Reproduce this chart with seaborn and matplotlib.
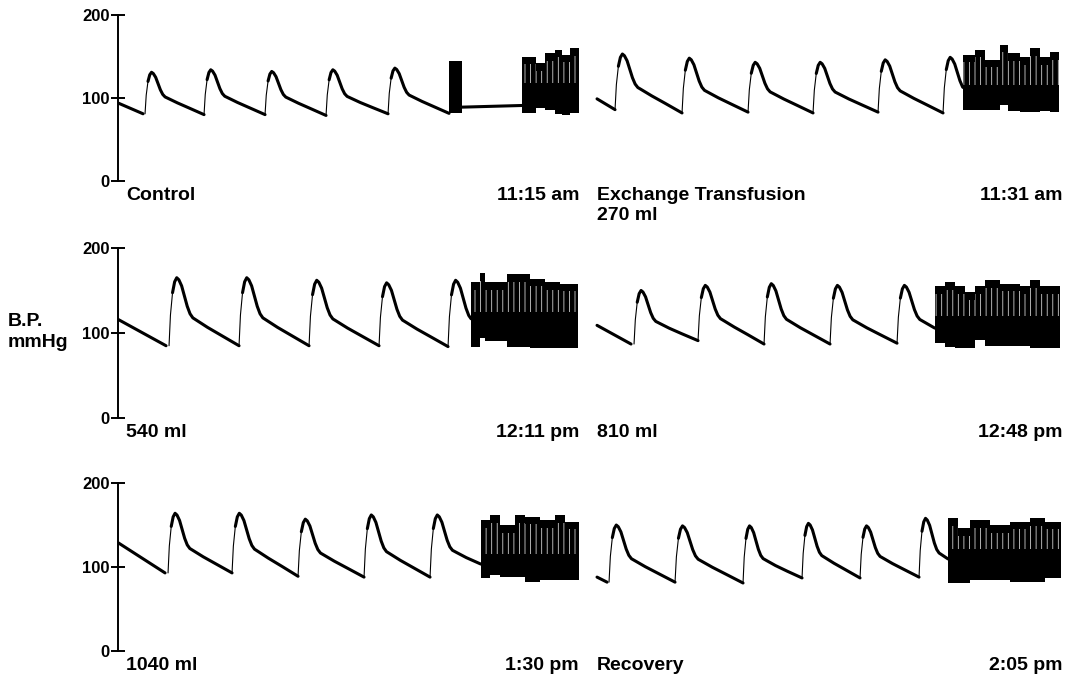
import matplotlib
matplotlib.use("Agg")
import matplotlib.pyplot as plt
import numpy as np
import pandas as pd
import seaborn as sns

# time runs along the paper strip (arbitrary chart units), pressure in mmHg

# shape of one beat: fraction of the beat -> rise above diastolic
PULSE_PHASE = [0, 0.02, 0.05, 0.08, 0.11, 0.14, 0.18, 0.22, 0.26, 0.30, 0.34, 0.40, 0.55, 0.75, 1.0]
PULSE_LEVEL = [0, 0.45, 0.78, 0.94, 1.0, 0.97, 0.88, 0.73, 0.58, 0.47, 0.41, 0.37, 0.27, 0.15, 0]

# ---- row 1 left: Control ----
ctrl_init_t = [0.0, 5.0]
ctrl_init_p = [94, 81]
ctrl_onset = [5.4, 17.2, 29.4, 41.6, 54.0]
ctrl_peak = [131, 134, 132, 134, 136]
ctrl_trough = [80, 80, 79, 81, 81]
ctrl_flat_t = [68.8, 80.8]
ctrl_flat_p = [89, 91]
ctrl_blk1_t = [66.2, 68.8]
ctrl_blk1_hi = [145]
ctrl_blk1_lo = [82]
ctrl_blk2_t = [80.8, 83.6, 85.4, 87.4, 88.8, 90.4, 92.2]
ctrl_blk2_hi = [150, 142, 154, 158, 152, 160]
ctrl_blk2_lo = [82, 88, 86, 81, 80, 82]

# ---- row 1 right: Exchange transfusion 270 ml ----
ex270_init_t = [95.8, 99.4]
ex270_init_p = [99, 86]
ex270_onset = [99.4, 112.8, 126.0, 139.0, 152.0, 165.0]
ex270_peak = [153, 148, 143, 143, 146, 149]
ex270_trough = [82, 83, 82, 83, 82, 82]
ex270_blk_t = [169.0, 171.4, 173.4, 176.4, 178.0, 180.4, 182.4, 184.4, 186.4, 188.2]
ex270_blk_hi = [152, 158, 146, 164, 154, 149, 160, 149, 155]
ex270_blk_lo = [86, 86, 86, 92, 84, 83, 83, 84, 83]

# ---- row 2 left: 540 ml ----
ex540_init_t = [0.0, 9.6]
ex540_init_p = [116, 85]
ex540_onset = [10.2, 24.2, 38.2, 52.2, 66.0]
ex540_peak = [165, 165, 162, 159, 162]
ex540_trough = [85, 85, 85, 84, 84]
ex540_blk_t = [70.6, 72.4, 73.4, 77.8, 82.4, 85.4, 88.4, 92.0]
ex540_blk_hi = [160, 170, 160, 169, 164, 160, 158]
ex540_blk_lo = [84, 94, 90, 84, 82, 82, 82]

# ---- row 2 right: 810 ml ----
ex810_init_t = [95.8, 102.6]
ex810_init_p = [109, 87]
ex810_onset = [103.2, 116.0, 129.2, 142.4, 155.8]
ex810_peak = [150, 156, 158, 156, 156]
ex810_trough = [91, 87, 87, 88, 88]
ex810_blk_t = [163.4, 165.4, 167.4, 169.4, 171.4, 173.4, 176.4, 178.4, 180.4, 182.4, 184.4, 188.4]
ex810_blk_hi = [155, 160, 155, 148, 155, 162, 158, 158, 155, 162, 155]
ex810_blk_lo = [88, 84, 82, 82, 92, 85, 85, 85, 85, 82, 82]

# ---- row 3 left: 1040 ml ----
ex1040_init_t = [0.0, 9.4]
ex1040_init_p = [129, 93]
ex1040_onset = [10.0, 22.8, 36.0, 49.2, 62.4]
ex1040_peak = [164, 164, 157, 162, 162]
ex1040_trough = [93, 89, 88, 88, 96]
ex1040_blk_t = [72.6, 74.4, 76.4, 79.4, 81.4, 84.4, 87.4, 89.4, 92.2]
ex1040_blk_hi = [156, 162, 150, 162, 160, 156, 162, 154]
ex1040_blk_lo = [87, 90, 88, 88, 82, 85, 85, 85]

# ---- row 3 right: Recovery ----
rec_init_t = [95.8, 97.8]
rec_init_p = [88, 82]
rec_onset = [98.2, 111.4, 125.0, 136.8, 148.4, 160.2]
rec_peak = [150, 149, 149, 152, 149, 158]
rec_trough = [82, 81, 87, 87, 88, 88]
rec_blk_t = [166.0, 168.0, 170.4, 174.4, 178.4, 182.4, 185.4, 188.6]
rec_blk_hi = [158, 146, 156, 150, 154, 158, 154]
rec_blk_lo = [81, 81, 85, 85, 82, 82, 87]

# light (speckled) band inside each fast-speed block
blk_mid = [118, 116, 125, 120, 116, 122]

left_labels = ["Control", "540 ml", "1040 ml"]
left_times = ["11:15 am", "12:11 pm", "1:30 pm"]
right_labels = ["Exchange Transfusion\n270 ml", "810 ml", "Recovery"]
right_times = ["11:31 am", "12:48 pm", "2:05 pm"]

panels = [
    (0, ctrl_init_t, ctrl_init_p, ctrl_onset, ctrl_peak, ctrl_trough,
     [(ctrl_blk1_t, ctrl_blk1_hi, ctrl_blk1_lo, None), (ctrl_blk2_t, ctrl_blk2_hi, ctrl_blk2_lo, blk_mid[0])],
     (ctrl_flat_t, ctrl_flat_p)),
    (0, ex270_init_t, ex270_init_p, ex270_onset, ex270_peak, ex270_trough,
     [(ex270_blk_t, ex270_blk_hi, ex270_blk_lo, blk_mid[1])], None),
    (1, ex540_init_t, ex540_init_p, ex540_onset, ex540_peak, ex540_trough,
     [(ex540_blk_t, ex540_blk_hi, ex540_blk_lo, blk_mid[2])], None),
    (1, ex810_init_t, ex810_init_p, ex810_onset, ex810_peak, ex810_trough,
     [(ex810_blk_t, ex810_blk_hi, ex810_blk_lo, blk_mid[3])], None),
    (2, ex1040_init_t, ex1040_init_p, ex1040_onset, ex1040_peak, ex1040_trough,
     [(ex1040_blk_t, ex1040_blk_hi, ex1040_blk_lo, blk_mid[4])], None),
    (2, rec_init_t, rec_init_p, rec_onset, rec_peak, rec_trough,
     [(rec_blk_t, rec_blk_hi, rec_blk_lo, blk_mid[5])], None),
]


def beat_frames(init_t, init_p, onsets, peaks, troughs, stop_t):
    phase = np.array(PULSE_PHASE)
    level = np.array(PULSE_LEVEL)
    thick, thin = [], []
    thick.append(pd.DataFrame({"t": init_t, "p": init_p, "unit": "init"}))
    for i, (t0, pk, d1) in enumerate(zip(onsets, peaks, troughs)):
        d0 = init_p[-1] if i == 0 else troughs[i - 1]
        if i + 1 < len(onsets):
            dur = onsets[i + 1] - t0
        else:
            dur = t0 - onsets[i - 1]
        t = t0 + phase * dur
        base = d0 + (d1 - d0) * phase
        p = base + level * (pk - base)
        if t[-1] > stop_t:
            # beat runs into the fast-speed block: cut it there
            keep = t < stop_t
            end_p = np.interp(stop_t, t, p)
            t = np.append(t[keep], stop_t)
            p = np.append(p[keep], end_p)
        thin.append(pd.DataFrame({"t": t[:3], "p": p[:3], "unit": f"b{i}"}))
        thick.append(pd.DataFrame({"t": t[2:], "p": p[2:], "unit": f"b{i}"}))
    return pd.concat(thick, ignore_index=True), pd.concat(thin, ignore_index=True)


sns.set_theme(style="white")
plt.rcParams["font.family"] = ["Liberation Sans", "DejaVu Sans"]
plt.rcParams["text.color"] = "black"
plt.rcParams["hatch.linewidth"] = 0.6

fig = plt.figure(figsize=(10.76, 6.79), dpi=100)
axes = [
    fig.add_axes([0.1097, 0.7334, 0.8801, 0.2445]),
    fig.add_axes([0.1097, 0.3844, 0.8801, 0.2504]),
    fig.add_axes([0.1097, 0.0412, 0.8801, 0.2474]),
]

for row, init_t, init_p, onsets, peaks, troughs, blocks, flat in panels:
    ax = axes[row]
    stop_t = blocks[0][0][0]
    thick, thin = beat_frames(init_t, init_p, onsets, peaks, troughs, stop_t)
    if flat is not None:
        thick = pd.concat([thick, pd.DataFrame({"t": flat[0], "p": flat[1], "unit": "flat"})],
                          ignore_index=True)
    sns.lineplot(data=thick, x="t", y="p", units="unit", estimator=None, sort=False,
                 color="black", lw=2.2, ax=ax, legend=False)
    sns.lineplot(data=thin, x="t", y="p", units="unit", estimator=None, sort=False,
                 color="black", lw=0.8, ax=ax, legend=False)
    for edges, hi, lo, mid in blocks:
        hi_s = list(hi) + [hi[-1]]
        lo_s = list(lo) + [lo[-1]]
        ax.fill_between(edges, lo_s, hi_s, step="post", color="black", lw=0)
        if mid is not None:
            top = np.array(hi_s) - 9
            ax.fill_between(edges, mid, top, step="post", facecolor="none",
                            edgecolor="#cfcfcf", hatch="|||", lw=0)

for i, ax in enumerate(axes):
    ax.set_xlim(0, 189.4)
    ax.set_ylim(0, 200)
    ax.set_facecolor("none")
    for side in ["top", "right", "bottom"]:
        ax.spines[side].set_visible(False)
    ax.spines["left"].set_color("black")
    ax.spines["left"].set_linewidth(1.4)
    ax.set_xticks([])
    ax.set_yticks([0, 100, 200])
    ax.set_yticklabels(["0", "100", "200"], fontweight="bold")
    ax.tick_params(axis="y", direction="inout", length=10, width=1.4, labelsize=12,
                   pad=1, colors="black", left=True)
    ax.set_xlabel("")
    ax.set_ylabel("")
    kw = dict(xycoords=("data", "axes fraction"), textcoords="offset points",
              va="top", fontsize=14, fontweight="bold", color="black")
    ax.annotate(left_labels[i], (1.6, 0), xytext=(0, -4), ha="left", **kw)
    ax.annotate(left_times[i], (92.2, 0), xytext=(0, -4), ha="right", **kw)
    ax.annotate(right_labels[i], (95.8, 0), xytext=(0, -4), ha="left", linespacing=1.25, **kw)
    ax.annotate(right_times[i], (188.8, 0), xytext=(0, -4), ha="right", **kw)

fig.text(8 / 1076, 0.511, "B.P.\nmmHg", ha="left", va="center", fontsize=14,
         fontweight="bold", linespacing=1.3, color="black")

fig.savefig("out.png", dpi=100, facecolor="white")
